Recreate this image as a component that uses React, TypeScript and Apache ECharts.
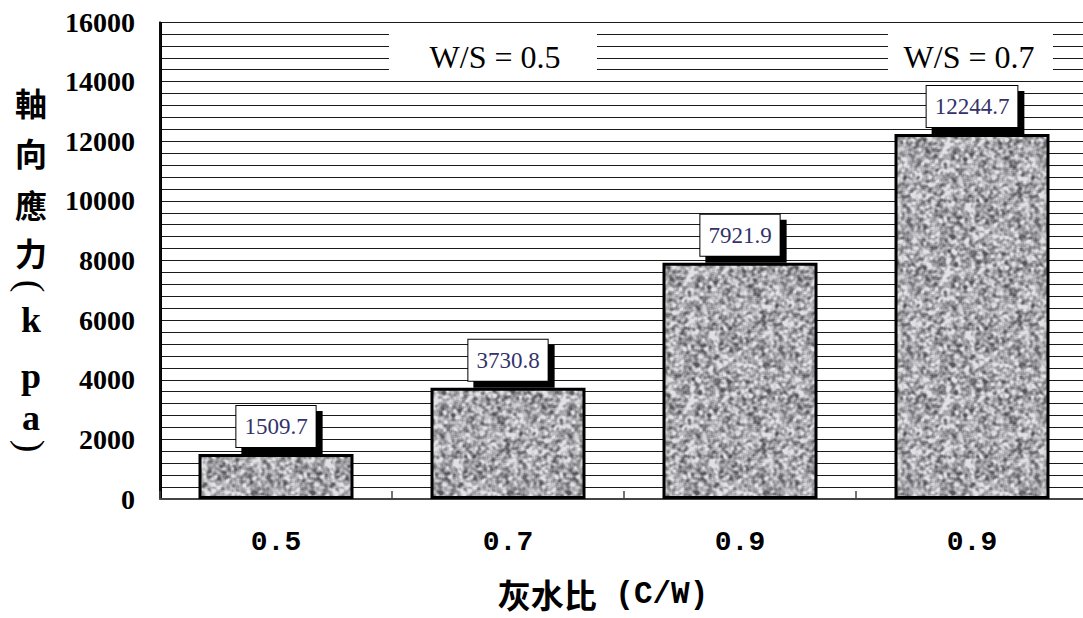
import React, { useEffect, useRef } from "react";
import * as echarts from "echarts";

// Cement/water ratio categories and measured axial stress (kPa)
const ratioLabels = ["0.5", "0.7", "0.9", "0.9"];
const axialStress = [1509.7, 3730.8, 7921.9, 12244.7];

// Value axis range
const yMin = 0;
const yMax = 16000;
const yStep = 2000;
const yMinorSplits = 5;

// Water/sand group annotations
const groupNotes = ["W/S = 0.5", "W/S = 0.7"];

// Axis titles (vertical title is stacked one glyph per line)
const yTitleChars = ["軸", "向", "應", "力", "(", "k", "p", "a", ")"];
const xTitleCjk = "灰水比";
const xTitleLatin = "(C/W)";

// Speckled granite-like grey tile used as the bar fill (seeded, tileable)
function makeGraniteTile(size: number, seed: number): HTMLCanvasElement {
  const canvas = document.createElement("canvas");
  canvas.width = size;
  canvas.height = size;
  const ctx = canvas.getContext("2d")!;
  let s = seed >>> 0;
  const rnd = () => {
    s = (Math.imul(s, 1664525) + 1013904223) >>> 0;
    return s / 4294967296;
  };
  let field = new Float32Array(size * size);
  for (let i = 0; i < field.length; i++) field[i] = rnd();
  // two passes of a wrapping 3x3 box blur give soft speckles a few pixels wide
  for (let pass = 0; pass < 2; pass++) {
    const out = new Float32Array(size * size);
    for (let y = 0; y < size; y++) {
      for (let x = 0; x < size; x++) {
        let sum = 0;
        for (let dy = -1; dy <= 1; dy++) {
          const yy = (y + dy + size) % size;
          for (let dx = -1; dx <= 1; dx++) {
            const xx = (x + dx + size) % size;
            sum += field[yy * size + xx];
          }
        }
        out[y * size + x] = sum / 9;
      }
    }
    field = out;
  }
  const img = ctx.createImageData(size, size);
  for (let i = 0; i < field.length; i++) {
    let g = 167 + (field[i] - 0.5) * 480;
    g = Math.max(85, Math.min(225, g));
    img.data[i * 4] = g;
    img.data[i * 4 + 1] = g;
    img.data[i * 4 + 2] = Math.min(255, g + 5);
    img.data[i * 4 + 3] = 255;
  }
  ctx.putImageData(img, 0, 0);
  return canvas;
}

export default function App() {
  const ref = useRef<HTMLDivElement>(null);

  useEffect(() => {
    if (!ref.current) return;
    const chart = echarts.init(ref.current, undefined, { renderer: "svg" });
    const tileSize = 128;
    const tile = makeGraniteTile(tileSize, 20240607);

    const gridLine = { color: "#1a1a1a", width: 1.2 };

    const titleYs = [102, 152, 204, 252, 286, 320, 376, 418, 446];

    const option: echarts.EChartsOption = {
      animation: false,
      backgroundColor: "#ffffff",
      grid: { left: 160, top: 22, right: 2, bottom: 119, containLabel: false },
      xAxis: {
        type: "category",
        data: ratioLabels,
        boundaryGap: true,
        axisLine: { show: true, lineStyle: { color: "#444", width: 2 } },
        axisTick: { show: true, inside: true, length: 8, lineStyle: { color: "#444", width: 1.5 } },
        axisLabel: {
          color: "#000",
          fontFamily: "Liberation Mono",
          fontWeight: "bold",
          fontSize: 28,
          margin: 29,
        },
        splitLine: {
          show: true,
          interval: (index: number) => index === 3,
          lineStyle: { color: "#000", width: 3 },
        },
      },
      yAxis: {
        type: "value",
        min: yMin,
        max: yMax,
        interval: yStep,
        axisLine: { show: true, lineStyle: { color: "#111", width: 1.5 } },
        axisTick: { show: false },
        axisLabel: {
          color: "#000",
          fontFamily: "Liberation Serif",
          fontWeight: "bold",
          fontSize: 28,
          margin: 25,
          formatter: (v: number) => String(v),
        },
        splitLine: { show: true, lineStyle: gridLine },
        minorTick: { show: false, splitNumber: yMinorSplits },
        minorSplitLine: { show: true, lineStyle: gridLine },
      },
      series: [
        {
          type: "bar",
          data: axialStress,
          barWidth: 155,
          itemStyle: {
            color: {
              image: tile,
              repeat: "repeat",
              imageWidth: tileSize,
              imageHeight: tileSize,
            } as any,
            borderColor: "#000",
            borderWidth: 3,
          },
          label: {
            show: true,
            position: "top",
            distance: 7,
            color: "#33336a",
            fontFamily: "Liberation Serif",
            fontSize: 23,
            lineHeight: 25,
            backgroundColor: "#fff",
            borderColor: "#000",
            borderWidth: 1,
            padding: [8, 8, 8, 8],
            shadowColor: "#000",
            shadowBlur: 0,
            shadowOffsetX: 6,
            shadowOffsetY: 6,
          },
        },
      ],
      graphic: [
        {
          type: "rect",
          z: 10,
          shape: { x: 389, y: 25, width: 208, height: 54 },
          style: { fill: "#fff" },
        },
        {
          type: "text",
          z: 11,
          x: 495,
          y: 57,
          style: {
            text: groupNotes[0],
            fill: "#000",
            font: "32px 'Liberation Serif'",
            align: "center",
            verticalAlign: "middle",
          },
        },
        {
          type: "rect",
          z: 10,
          shape: { x: 888, y: 25, width: 165, height: 54 },
          style: { fill: "#fff" },
        },
        {
          type: "text",
          z: 11,
          x: 969,
          y: 57,
          style: {
            text: groupNotes[1],
            fill: "#000",
            font: "32px 'Liberation Serif'",
            align: "center",
            verticalAlign: "middle",
          },
        },
        ...yTitleChars.map((ch, i) => {
          const latin = /[a-z]/.test(ch);
          const paren = ch === "(" || ch === ")";
          return {
            type: "text" as const,
            z: 11,
            x: 31,
            y: titleYs[i],
            rotation: paren ? -Math.PI / 2 : 0,
            style: {
              text: ch,
              fill: "#000",
              font: paren
                ? "38px 'Liberation Serif'"
                : latin
                ? "bold 36px 'Liberation Serif'"
                : "bold 32px 'Noto Sans CJK TC'",
              align: "center" as const,
              verticalAlign: "middle" as const,
            },
          };
        }),
        {
          type: "text",
          z: 11,
          x: 603,
          y: 594,
          style: {
            text: "{c|" + xTitleCjk + "}{l| " + xTitleLatin + "}",
            fill: "#000",
            align: "center",
            verticalAlign: "middle",
            rich: {
              c: {
                fontFamily: "Noto Sans CJK TC",
                fontWeight: "bold",
                fontSize: 33,
                lineHeight: 36,
                fill: "#000",
              },
              l: {
                fontFamily: "Liberation Mono",
                fontWeight: "bold",
                fontSize: 31,
                lineHeight: 36,
                fill: "#000",
              },
            },
          } as any,
        },
      ],
    };

    chart.setOption(option);
    return () => {
      chart.dispose();
    };
  }, []);

  return (
    <div
      style={{
        position: "absolute",
        left: 0,
        top: 0,
        width: 1083,
        height: 618,
        overflow: "hidden",
      }}
    >
      <div ref={ref} style={{ width: 1090, height: 618 }} />
    </div>
  );
}
